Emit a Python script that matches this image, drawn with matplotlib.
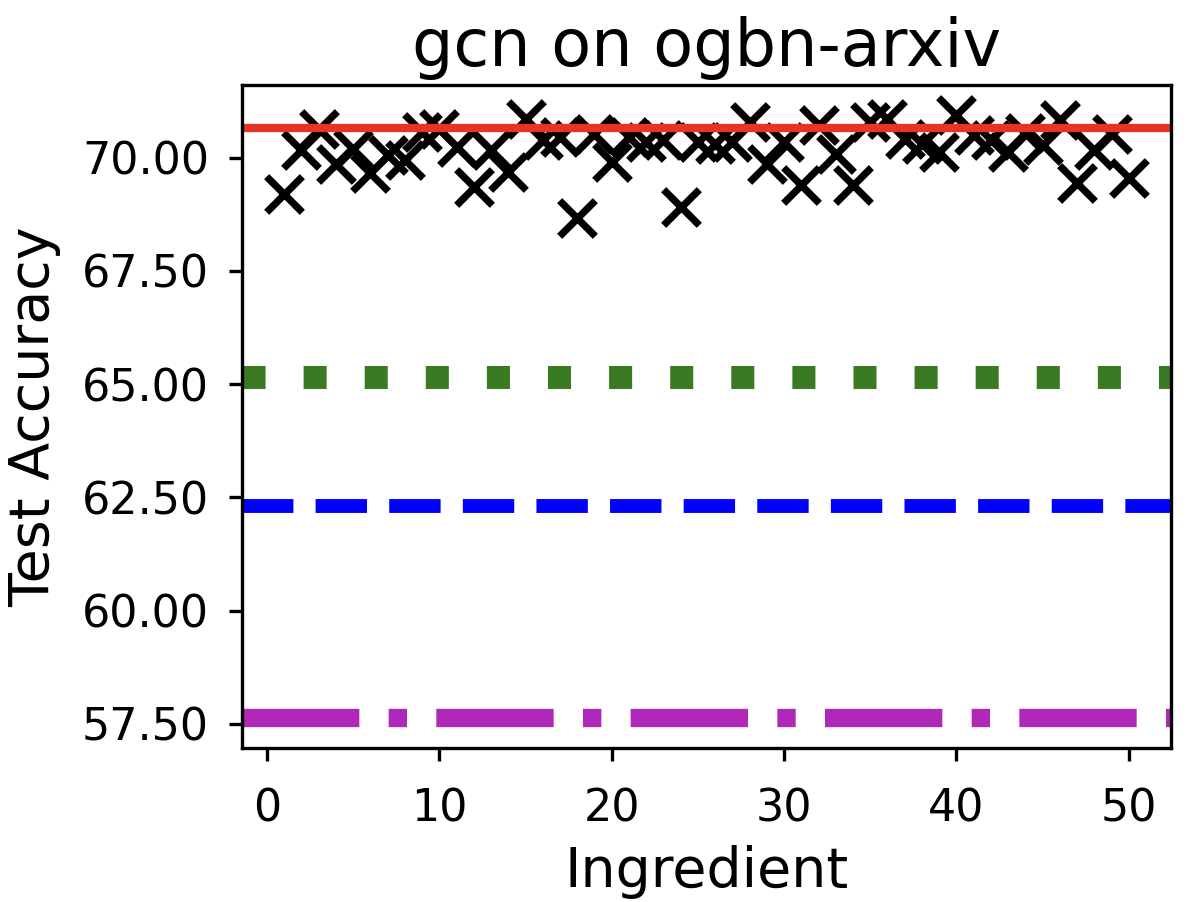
import matplotlib
matplotlib.use("Agg")
import matplotlib.pyplot as plt
from matplotlib.ticker import MultipleLocator, FormatStrFormatter

# test accuracy of each ingredient (x = 1..50)
ingredients = list(range(1, 51))
accs = [69.19, 70.17, 70.64, 69.87, 70.20, 69.66, 70.06, 69.95, 70.57, 70.64,
        70.24, 69.36, 70.17, 69.69, 70.85, 70.40, 70.45, 68.67, 70.53, 69.91,
        70.45, 70.35, 70.40, 68.92, 70.35, 70.30, 70.35, 70.79, 69.87, 70.35,
        69.40, 70.72, 70.09, 69.40, 70.79, 70.86, 70.42, 70.30, 70.13, 70.94,
        70.50, 70.40, 70.13, 70.55, 70.28, 70.83, 69.44, 70.17, 70.53, 69.55]

# reference lines
best_soup = 70.66
green_ref = 65.15
blue_ref = 62.30
purple_ref = 57.63

fig, ax = plt.subplots(figsize=(5.96, 4.51), dpi=200)
fig.subplots_adjust(left=0.203, right=0.9824, top=0.9058, bottom=0.1707)

ax.scatter(ingredients, accs, marker='x', s=165, linewidths=2.6, color='black')
ax.axhline(best_soup, color='#e83427', linewidth=3)
ax.axhline(green_ref, color='#3a7a22', linewidth=8.3, linestyle=':')
ax.axhline(blue_ref, color='#0000ff', linewidth=5, linestyle='--')
ax.axhline(purple_ref, color='#b028b8', linewidth=6.6, linestyle='-.')

ax.yaxis.set_major_locator(MultipleLocator(2.5))
ax.yaxis.set_major_formatter(FormatStrFormatter('%.2f'))
ax.xaxis.set_major_locator(MultipleLocator(10))

for s in ax.spines.values():
    s.set_linewidth(1.2)
ax.tick_params(labelsize=16, width=1.2, length=4.8)
ax.tick_params(axis='y', pad=7)
ax.tick_params(axis='x', pad=9.5)

ax.set_title('gcn on ogbn-arxiv', fontsize=23.5, pad=7)
ax.set_xlabel('Ingredient', fontsize=20, labelpad=5)
ax.set_ylabel('Test Accuracy', fontsize=20, labelpad=7.5)

fig.savefig('out.png', dpi=200)
